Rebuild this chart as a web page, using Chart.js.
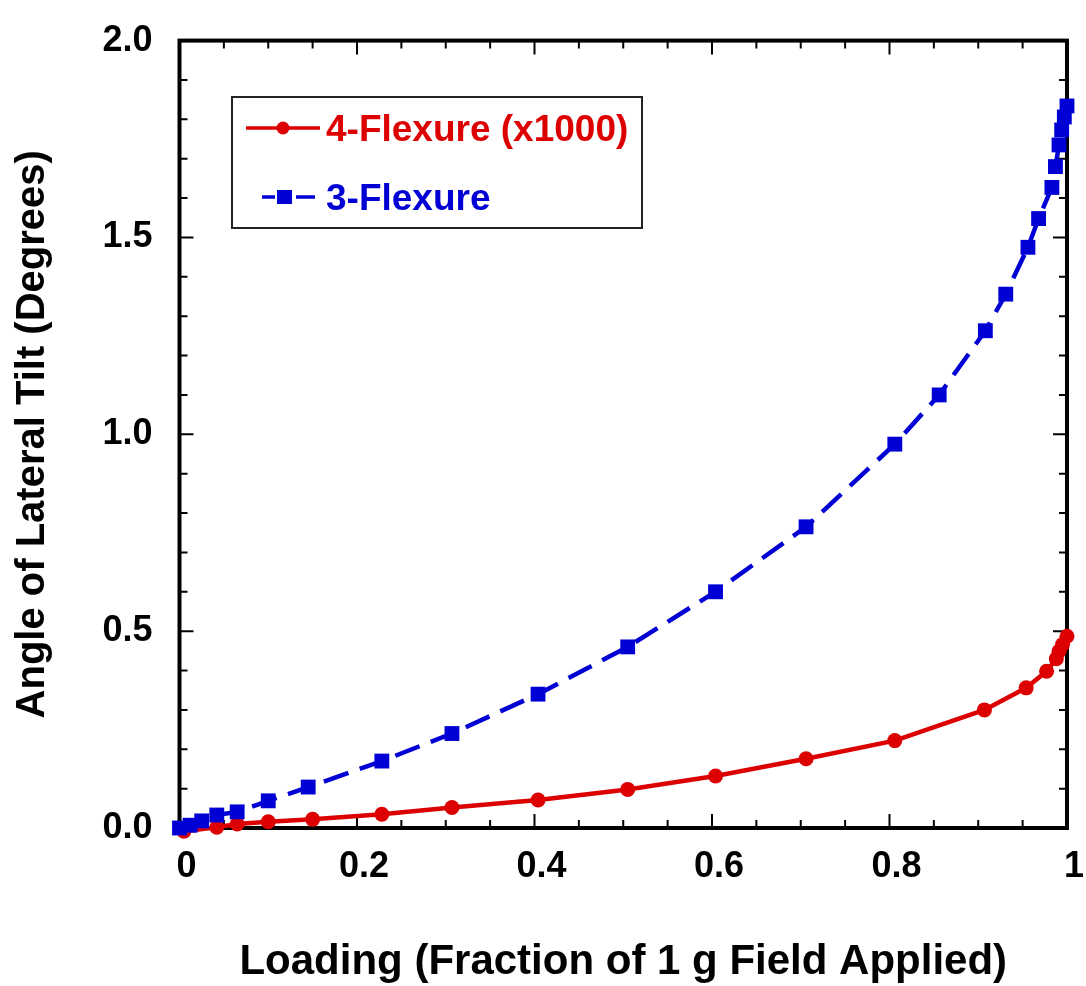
<!DOCTYPE html>
<html><head><meta charset="utf-8">
<script src="https://cdn.jsdelivr.net/npm/chart.js@4.4.0/dist/chart.umd.min.js"></script>
<style>html,body{margin:0;padding:0;background:#fff;}#wrap{width:1086px;height:986px;}</style>
</head><body><div id="wrap"><canvas id="c" width="1086" height="986"></canvas></div>
<script>
// ---- data ----
const xTickLabels = ["0", "0.2", "0.4", "0.6", "0.8", "1"];
const yTickLabels = ["0.0", "0.5", "1.0", "1.5", "2.0"];
const seriesNames = ["4-Flexure (x1000)", "3-Flexure"];
const xTitle = "Loading (Fraction of 1 g Field Applied)";
const yTitle = "Angle of Lateral Tilt (Degrees)";

const redX = [0.005, 0.042, 0.065, 0.1, 0.15, 0.228, 0.307, 0.404, 0.505, 0.604, 0.706, 0.806, 0.907, 0.954, 0.977, 0.988, 0.991, 0.995, 1.0];
const redY = [-0.008, 0.002, 0.01, 0.016, 0.022, 0.035, 0.052, 0.071, 0.098, 0.132, 0.176, 0.222, 0.300, 0.356, 0.398, 0.430, 0.449, 0.466, 0.487];

const blueX = [0.0, 0.012, 0.025, 0.042, 0.065, 0.1, 0.145, 0.228, 0.307, 0.404, 0.505, 0.604, 0.706, 0.806, 0.856, 0.908, 0.931, 0.956, 0.968, 0.983, 0.987, 0.991, 0.994, 0.997, 1.0];
const blueY = [0.0, 0.007, 0.018, 0.033, 0.041, 0.069, 0.104, 0.170, 0.240, 0.340, 0.460, 0.600, 0.765, 0.975, 1.100, 1.263, 1.356, 1.475, 1.548, 1.627, 1.680, 1.735, 1.773, 1.806, 1.834];

const RED = '#DD0000';
const BLUE = '#0000D4';
const FONT = "'Liberation Sans', Arial, Helvetica, sans-serif";

const toPts = (xs, ys) => xs.map((x, i) => ({x: x, y: ys[i]}));

const framePlugin = {
  id: 'frame',
  beforeDatasetsDraw(chart) {
    const {ctx, chartArea: a, scales: {x, y}} = chart;
    ctx.save();
    ctx.strokeStyle = '#000';
    ctx.lineWidth = 2;
    ctx.beginPath();
    for (let i = 1; i < 20; i++) {
      const px = x.getPixelForValue(i * 0.05);
      const L = (i % 4 === 0) ? 14 : 8;
      ctx.moveTo(px, a.bottom); ctx.lineTo(px, a.bottom - L);
      ctx.moveTo(px, a.top); ctx.lineTo(px, a.top + L);
    }
    for (let i = 1; i < 20; i++) {
      const py = y.getPixelForValue(i * 0.1);
      const L = (i % 5 === 0) ? 14 : 8;
      ctx.moveTo(a.left, py); ctx.lineTo(a.left + L, py);
      ctx.moveTo(a.right, py); ctx.lineTo(a.right - L, py);
    }
    ctx.stroke();
    ctx.lineWidth = 4;
    ctx.strokeRect(a.left, a.top, a.right - a.left, a.bottom - a.top);
    ctx.restore();
  },
  afterDraw(chart) {
    const {ctx} = chart;
    const ds = chart.data.datasets;
    ctx.save();
    ctx.strokeStyle = '#222';
    ctx.lineWidth = 2;
    ctx.strokeRect(232, 97, 410, 131);
    ctx.font = "bold 37px " + FONT;
    ctx.textBaseline = 'alphabetic';
    ctx.textAlign = 'left';
    // item 1 (red)
    ctx.strokeStyle = ds[0].borderColor;
    ctx.lineWidth = 3.5;
    ctx.beginPath(); ctx.moveTo(246, 128); ctx.lineTo(320, 128); ctx.stroke();
    ctx.fillStyle = ds[0].borderColor;
    ctx.beginPath(); ctx.arc(283, 128, 6.5, 0, Math.PI * 2); ctx.fill();
    ctx.fillText(ds[0].label, 326, 141);
    // item 2 (blue)
    ctx.strokeStyle = ds[1].borderColor;
    ctx.beginPath();
    ctx.moveTo(262, 197); ctx.lineTo(275, 197);
    ctx.moveTo(296, 197); ctx.lineTo(315, 197);
    ctx.stroke();
    ctx.fillStyle = ds[1].borderColor;
    ctx.fillRect(277, 190, 15, 14);
    ctx.fillText(ds[1].label, 326, 210);
    ctx.restore();
  }
};

new Chart(document.getElementById('c'), {
  type: 'line',
  data: {
    datasets: [
      {
        label: seriesNames[0],
        data: toPts(redX, redY),
        borderColor: RED, backgroundColor: RED,
        borderWidth: 4.5,
        pointStyle: 'circle', pointRadius: 7.5, pointBorderWidth: 0,
        pointBackgroundColor: RED,
        tension: 0, clip: false, order: 1
      },
      {
        label: seriesNames[1],
        data: toPts(blueX, blueY),
        borderColor: BLUE, backgroundColor: BLUE,
        borderWidth: 4.5, borderDash: [26, 12],
        pointStyle: 'rect', pointRadius: 10.5, pointBorderWidth: 0,
        pointBackgroundColor: BLUE,
        tension: 0, clip: false, order: 0
      }
    ]
  },
  options: {
    responsive: false,
    animation: false,
    devicePixelRatio: 1,
    layout: {padding: {left: 0, right: 18, top: 34, bottom: 0}},
    plugins: {legend: {display: false}, tooltip: {enabled: false}},
    scales: {
      x: {
        type: 'linear', min: 0, max: 1, position: 'bottom',
        afterFit(s) { s.height = 158; },
        grid: {display: false}, border: {display: false},
        ticks: {
          stepSize: 0.2, padding: 9, labelOffset: 7, autoSkip: false, maxRotation: 0,
          color: '#000', font: {family: FONT, weight: 'bold', size: 36},
          callback: (v, i) => xTickLabels[i]
        },
        title: {display: true, text: xTitle, color: '#000', font: {family: FONT, weight: 'bold', size: 42}, padding: {top: 0, bottom: -2}}
      },
      y: {
        type: 'linear', min: 0, max: 2, position: 'left',
        afterFit(s) { s.width = 179.5; },
        grid: {display: false}, border: {display: false},
        ticks: {
          stepSize: 0.5, padding: 19, autoSkip: false,
          color: '#000', font: {family: FONT, weight: 'bold', size: 36},
          callback: (v, i) => yTickLabels[i]
        },
        title: {display: true, text: yTitle, color: '#000', font: {family: FONT, weight: 'bold', size: 40}, padding: {top: 9, bottom: 0}}
      }
    }
  },
  plugins: [framePlugin]
});
</script>
</body></html>
